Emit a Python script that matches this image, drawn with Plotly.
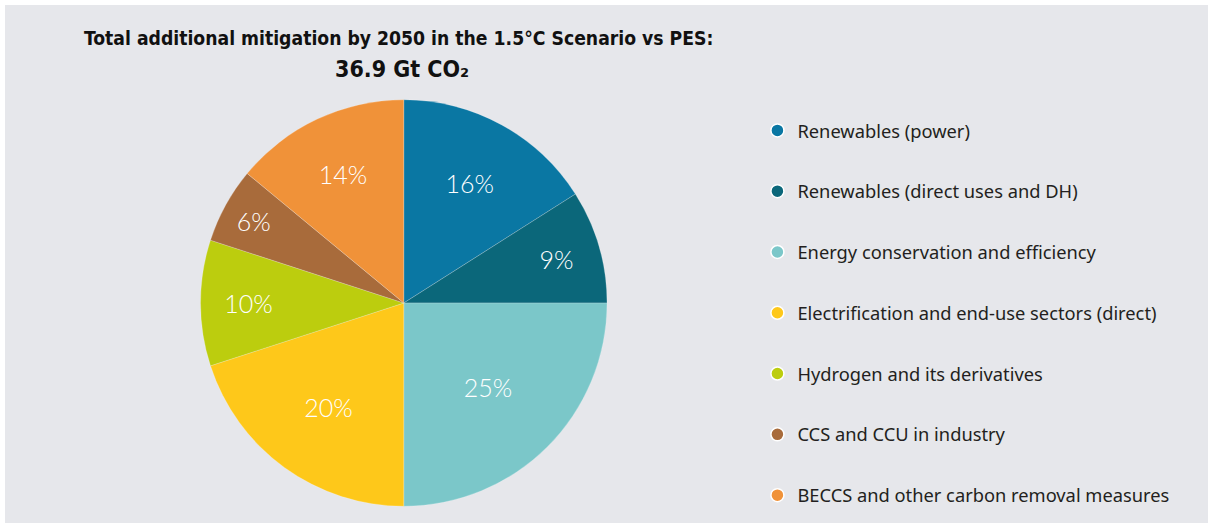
import plotly.graph_objects as go

# Data
categories = [
    "Renewables (power)",
    "Renewables (direct uses and DH)",
    "Energy conservation and efficiency",
    "Electrification and end-use sectors (direct)",
    "Hydrogen and its derivatives",
    "CCS and CCU in industry",
    "BECCS and other carbon removal measures",
]
shares = [16, 9, 25, 20, 10, 6, 14]
colors = ["#0a77a3", "#0b677a", "#7bc7c9", "#fec81a", "#bccd0e", "#a86b3b", "#f09239"]

BG = "#e6e7eb"
W, H = 1208, 523

fig = go.Figure()

fig.add_trace(go.Pie(
    labels=categories,
    values=shares,
    sort=False,
    direction="clockwise",
    rotation=0,
    marker=dict(colors=colors, line=dict(width=0.6, color="rgba(255,255,255,0.35)")),
    texttemplate="%{value}%",
    textposition="inside",
    insidetextorientation="horizontal",
    textfont=dict(family="Lato", size=25, color="white", weight=300),
    domain=dict(x=[0.166, 0.5025], y=[0.0287, 0.8126]),
    showlegend=False,
    hoverinfo="label+percent",
))

# legend with round markers
for i, (name, c) in enumerate(zip(categories, colors)):
    fig.add_trace(go.Scatter(
        x=[None], y=[None], mode="markers", name=name,
        marker=dict(symbol="circle", size=13, color=c, line=dict(color="white", width=1.5)),
        legendgroup=f"g{i}",
    ))

title_font = "DejaVu Sans Condensed, DejaVu Sans"
fig.add_annotation(
    text="<b>Total additional mitigation by 2050 in the 1.5°C Scenario vs PES:</b>",
    x=398 / W, y=1 - 38 / H, xref="paper", yref="paper", showarrow=False,
    xanchor="center", yanchor="middle",
    font=dict(family=title_font, size=19.2, color="#111111"),
)
fig.add_annotation(
    text="<b>36.9 Gt CO₂</b>",
    x=402 / W, y=1 - 69 / H, xref="paper", yref="paper", showarrow=False,
    xanchor="center", yanchor="middle",
    font=dict(family=title_font, size=23, color="#111111"),
)

fig.add_shape(type="rect", xref="paper", yref="paper", x0=5 / W, x1=1, y0=0, y1=1 - 5 / H,
              fillcolor=BG, line=dict(width=0), layer="below")

fig.update_xaxes(visible=False)
fig.update_yaxes(visible=False)

fig.update_layout(
    width=W, height=H,
    margin=dict(l=0, r=0, t=0, b=0, autoexpand=False),
    paper_bgcolor="white",
    plot_bgcolor="rgba(0,0,0,0)",
    legend=dict(
        x=0.627, y=1 - 112 / H, xanchor="left", yanchor="top",
        font=dict(family="Noto Sans", size=18.3, color="#231f20"),
        tracegroupgap=34,
        bgcolor="rgba(0,0,0,0)",
    ),
)

fig.write_html("out.html", config={"displayModeBar": False},
               post_script="document.body.style.margin='0px';")
